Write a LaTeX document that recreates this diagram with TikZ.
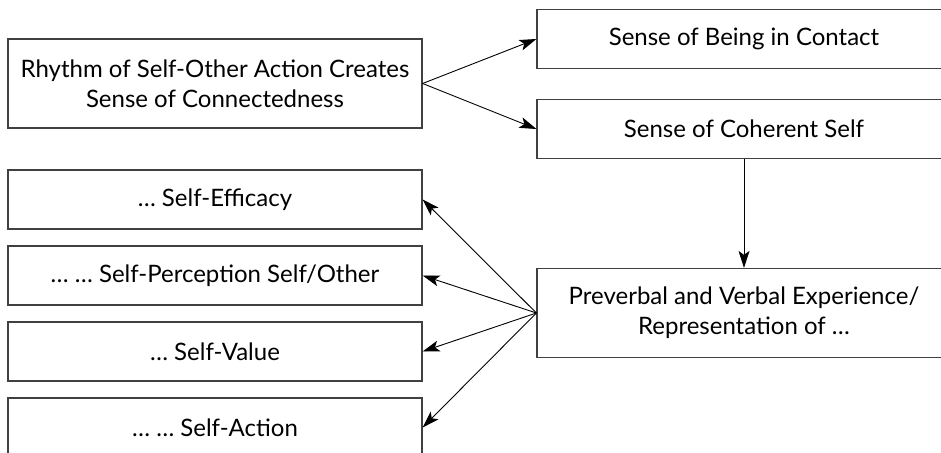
\documentclass[tikz,border=0pt]{standalone}
\usepackage{fontspec}
\setmainfont{Lato}
\usepackage{tikz}
\usetikzlibrary{arrows.meta}

\tikzset{
    box/.style={draw=black!75, line width=1.2pt, minimum width=414pt, inner sep=0pt,
        align=center, font=\fontsize{24}{30}\selectfont},
    link/.style={-{Stealth[length=17pt,width=11pt,inset=4pt]}, line width=0.9pt}
}

\begin{document}
\begin{tikzpicture}[x=1pt,y=-1pt]
            \useasboundingbox (0,0) rectangle (941,452);
            \node[box,minimum height=89pt] (rhythm) at (215,83.5)
                {Rhythm of Self-Other Action Creates\\Sense of Connectedness};
            \node[box,minimum height=59pt] (contact) at (744,39) {Sense of Being in Contact};
            \node[box,minimum height=59pt] (coherent) at (744,129) {Sense of Coherent Self};
            \node[box,minimum height=89pt] (preverbal) at (744,313)
                {Preverbal and Verbal Experience/\\Representation of …};
            \foreach \txt [count=\i] in {… Self-Efficacy, … … Self-Perception Self/Other, … Self-Value, … … Self-Action}
                \node[box,minimum height=59pt] (self\i) at (215,123.5+76*\i) {\txt};
            \draw[link] (rhythm.east) -- (contact.west);
            \draw[link] (rhythm.east) -- (coherent.west);
            \draw[link] (coherent.south) -- (preverbal.north);
            \foreach \i in {1,2,3,4}
                \draw[link] (preverbal.west) -- (self\i.east);
        \end{tikzpicture}
\end{document}
